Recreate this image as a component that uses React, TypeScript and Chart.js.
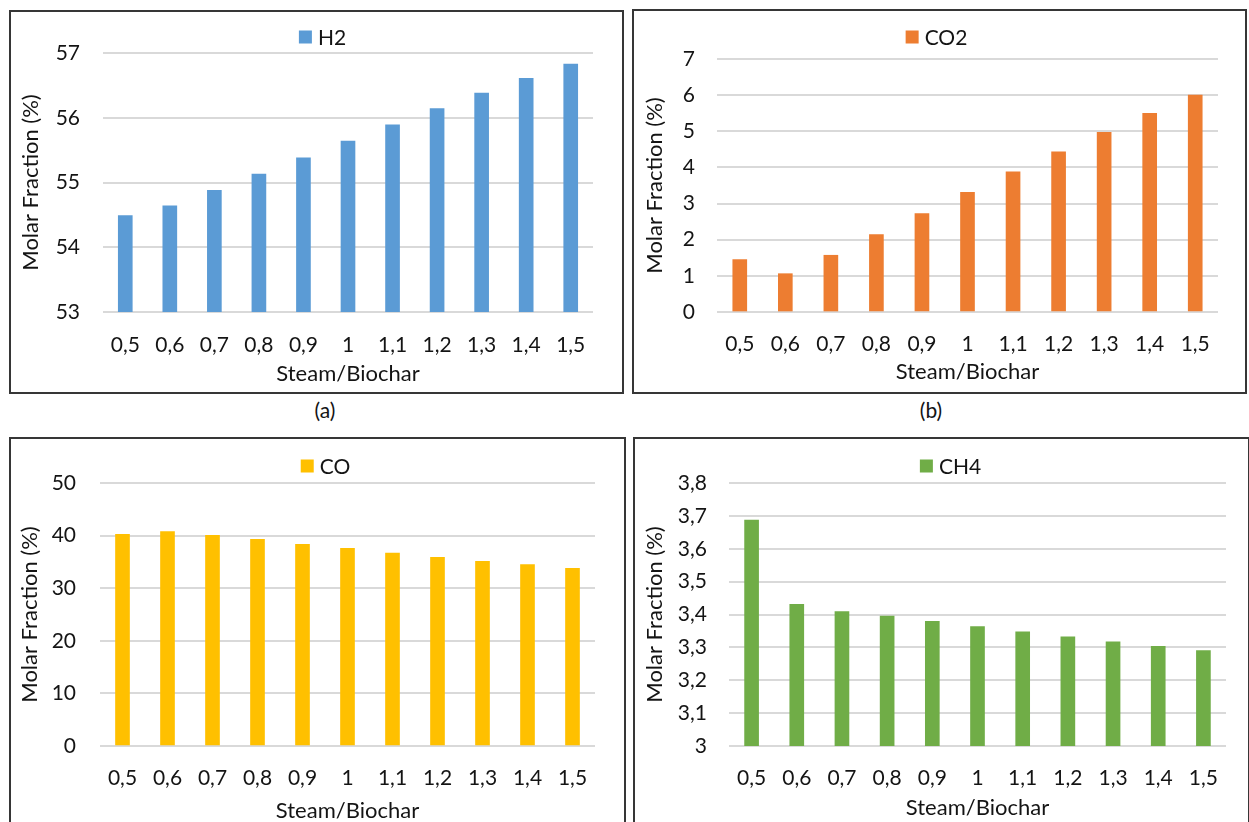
import React, { useEffect, useRef } from "react";
import { Chart, registerables } from "chart.js";

Chart.register(...registerables);

// ---- data ----
const categories = ["0,5", "0,6", "0,7", "0,8", "0,9", "1", "1,1", "1,2", "1,3", "1,4", "1,5"];
const h2Values = [54.49, 54.64, 54.88, 55.13, 55.38, 55.64, 55.89, 56.14, 56.38, 56.61, 56.83];
const co2Values = [1.45, 1.06, 1.57, 2.14, 2.72, 3.31, 3.88, 4.43, 4.97, 5.5, 6.0];
const coValues = [40.24, 40.75, 40.05, 39.29, 38.34, 37.58, 36.69, 35.87, 35.11, 34.47, 33.78];
const ch4Values = [3.687, 3.431, 3.409, 3.395, 3.379, 3.363, 3.347, 3.332, 3.317, 3.303, 3.29];
const seriesNames = ["H2", "CO2", "CO", "CH4"];
const panelLabels = ["(a)", "(b)"];
const xTitle = "Steam/Biochar";
const yTitle = "Molar Fraction (%)";

const FONT = "Lato";
const TEXT = "#141414";

type Geo = {
  left: number; top: number; w: number; h: number;
  cw: number; ch: number;
  padL: number; padR: number; padT: number; padB: number;
  yWidth: number; xHeight: number;
  yTickPad: number; xTickPad: number;
  legendX: number; legendY: number;
};

type PanelProps = {
  name: string;
  values: number[];
  color: string;
  min: number; max: number; step: number; decimals: number;
  geo: Geo;
};

const legendPlugin = {
  id: "boxLegend",
  afterDraw(chart: any, _args: any, opts: any) {
    const ctx = chart.ctx;
    const ds = chart.data.datasets[0];
    ctx.save();
    ctx.font = `21px ${FONT}`;
    const tw = ctx.measureText(ds.label).width;
    const box = 13, gap = 6;
    const total = box + gap + tw;
    const x0 = opts.x - total / 2;
    const y = opts.y;
    ctx.fillStyle = ds.backgroundColor;
    ctx.fillRect(x0, y - box / 2, box, box);
    ctx.fillStyle = TEXT;
    ctx.textBaseline = "middle";
    ctx.textAlign = "left";
    ctx.fillText(ds.label, x0 + box + gap, y + 1);
    ctx.restore();
  },
};

function Panel({ name, values, color, min, max, step, decimals, geo }: PanelProps) {
  const ref = useRef<HTMLCanvasElement | null>(null);
  useEffect(() => {
    if (!ref.current) return;
    const chart = new Chart(ref.current, {
      type: "bar",
      data: {
        labels: categories,
        datasets: [
          {
            label: name,
            data: values,
            backgroundColor: color,
            borderWidth: 0,
            barThickness: 14,
          },
        ],
      },
      plugins: [legendPlugin],
      options: {
        responsive: false,
        animation: false,
        devicePixelRatio: 1,
        layout: { padding: { left: geo.padL, right: geo.padR, top: geo.padT, bottom: geo.padB } },
        plugins: {
          legend: { display: false },
          tooltip: { enabled: false },
          boxLegend: { x: geo.legendX, y: geo.legendY },
        } as any,
        scales: {
          x: {
            grid: { display: false, drawTicks: false },
            border: { display: false },
            ticks: { font: { family: FONT, size: 21 }, color: TEXT, padding: geo.xTickPad, maxRotation: 0, autoSkip: false },
            title: { display: true, text: xTitle, font: { family: FONT, size: 22 }, color: TEXT, padding: 0 },
            afterFit: (s: any) => { s.height = geo.xHeight; },
          },
          y: {
            min, max,
            ticks: {
              stepSize: step,
              font: { family: FONT, size: 21 },
              color: TEXT,
              padding: geo.yTickPad,
              callback: (v: any) => {
                const r = Math.round(Number(v) / step) * step;
                return Number(r.toFixed(decimals)).toString().replace(".", ",");
              },
            },
            grid: { color: "#D9D9D9", lineWidth: 2, drawTicks: false },
            border: { display: false },
            title: { display: true, text: yTitle, font: { family: FONT, size: 22 }, color: TEXT, padding: 0 },
            afterFit: (s: any) => { s.width = geo.yWidth; },
          },
        },
      } as any,
    });
    return () => chart.destroy();
  }, []);
  return (
    <div
      style={{
        position: "absolute",
        left: geo.left,
        top: geo.top,
        width: geo.w,
        height: geo.h,
        border: "2px solid #363636",
        boxSizing: "border-box",
        background: "#fff",
        overflow: "hidden",
      }}
    >
      <canvas ref={ref} width={geo.cw} height={geo.ch} style={{ display: "block", width: geo.cw, height: geo.ch }} />
    </div>
  );
}

const geoA: Geo = { left: 9, top: 10, w: 615, h: 384, cw: 611, ch: 380, padL: 7, padR: 29, padT: 41, padB: 5, yWidth: 85, xHeight: 75, yTickPad: 23, xTickPad: 21, legendX: 311.5, legendY: 25 };
const geoB: Geo = { left: 632, top: 9, w: 615, h: 385, cw: 611, ch: 381, padL: 8, padR: 27, padT: 48, padB: 7, yWidth: 75, xHeight: 73, yTickPad: 22, xTickPad: 20, legendX: 302.5, legendY: 26 };
const geoC: Geo = { left: 9, top: 437, w: 617, h: 400, cw: 613, ch: 390, padL: 6, padR: 29, padT: 44, padB: 5, yWidth: 83, xHeight: 78, yTickPad: 24, xTickPad: 20, legendX: 314.5, legendY: 27 };
const geoD: Geo = { left: 633, top: 437, w: 617, h: 400, cw: 613, ch: 390, padL: 7, padR: 22, padT: 44, padB: 8, yWidth: 87, xHeight: 75, yTickPad: 22, xTickPad: 20, legendX: 315.5, legendY: 27 };

export default function App() {
  return (
    <div style={{ position: "absolute", left: 0, top: 0, width: 1249, height: 822, overflow: "hidden", background: "#fff", fontFamily: FONT }}>
      <Panel name={seriesNames[0]} values={h2Values} color="#5B9BD5" min={53} max={57} step={1} decimals={0} geo={geoA} />
      <Panel name={seriesNames[1]} values={co2Values} color="#ED7D31" min={0} max={7} step={1} decimals={0} geo={geoB} />
      <Panel name={seriesNames[2]} values={coValues} color="#FFC000" min={0} max={50} step={10} decimals={0} geo={geoC} />
      <Panel name={seriesNames[3]} values={ch4Values} color="#70AD47" min={3} max={3.8} step={0.1} decimals={1} geo={geoD} />
      <div style={{ position: "absolute", left: 275, top: 398, width: 100, textAlign: "center", fontSize: 21, lineHeight: "24px", color: TEXT }}>{panelLabels[0]}</div>
      <div style={{ position: "absolute", left: 881, top: 398, width: 100, textAlign: "center", fontSize: 21, lineHeight: "24px", color: TEXT }}>{panelLabels[1]}</div>
    </div>
  );
}
